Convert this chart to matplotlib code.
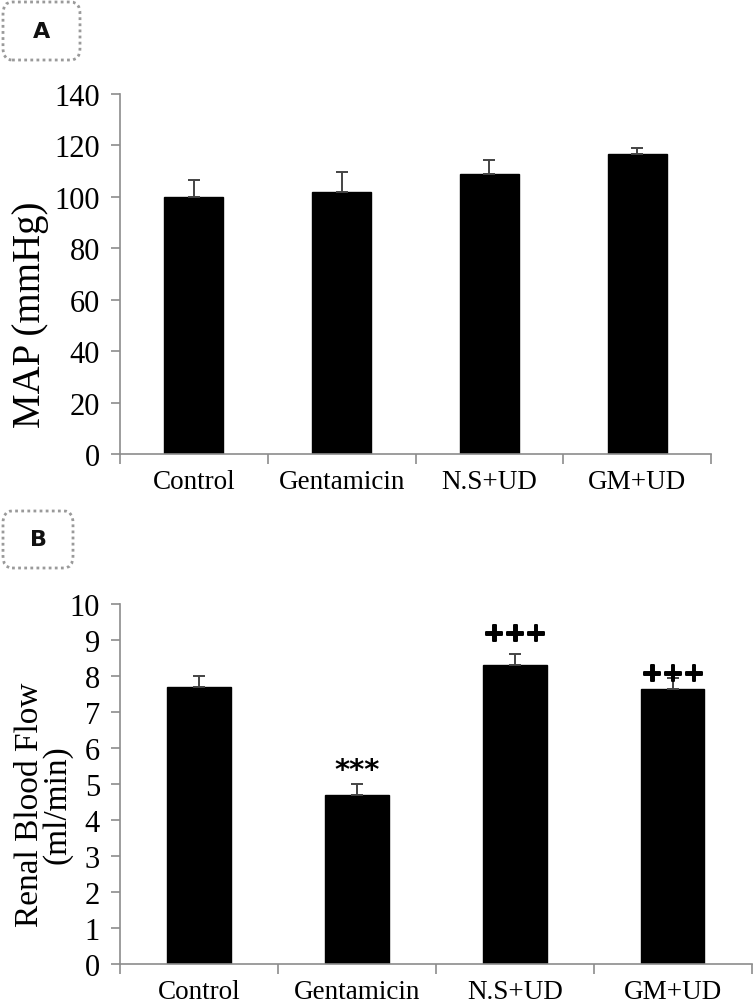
import matplotlib
matplotlib.use("Agg")
import matplotlib.pyplot as plt
import matplotlib.patheffects as pe
from matplotlib.patches import FancyBboxPatch

# data
groups = ["Control", "Gentamicin", "N.S+UD", "GM+UD"]
map_mean = [100, 102, 109, 116.5]
map_err = [6.5, 7.5, 5.4, 2.5]
rbf_mean = [7.7, 4.7, 8.3, 7.65]
rbf_err = [0.3, 0.3, 0.3, 0.3]
rbf_marks = ["", "***", "+++", "+++"]

SERIF = ["Liberation Serif", "DejaVu Serif"]
AXCOL = "#8c8c8c"


def style_axis(ax, ymax, ystep):
    n = len(groups)
    ax.set_xlim(-0.5, n - 0.5)
    ax.set_ylim(0, ymax)
    ax.set_yticks(range(0, ymax + 1, ystep))
    ax.set_xticks([i - 0.5 for i in range(n + 1)])
    ax.set_xticklabels([])
    ax.set_xticks(range(n), minor=True)
    ax.set_xticklabels(groups, minor=True, family=SERIF, fontsize=19.5)
    ax.tick_params(axis="x", which="minor", length=0, pad=11)
    ax.tick_params(axis="x", which="major", length=7, color=AXCOL, width=1.2)
    ax.tick_params(axis="y", length=6.5, color=AXCOL, width=1.2, pad=8)
    for lab in ax.get_yticklabels():
        lab.set_family(SERIF)
        lab.set_fontsize(22)
    for s in ["top", "right"]:
        ax.spines[s].set_visible(False)
    for s in ["left", "bottom"]:
        ax.spines[s].set_color(AXCOL)
        ax.spines[s].set_linewidth(1.2)


def bars(ax, mean, err):
    x = range(len(groups))
    ax.bar(x, mean, width=0.4, color="black", edgecolor="black")
    ax.errorbar(x, mean, yerr=[[0] * len(err), err], fmt="none",
                ecolor="#444444", elinewidth=1.4, capsize=4, capthick=1.4)


def panel_tag(fig, letter, x0, y0, w, h):
    W, H = 754, 1004
    box = FancyBboxPatch((x0 / W, 1 - (y0 + h) / H), w / W, h / H,
                         boxstyle="round,pad=0,rounding_size=0.012",
                         transform=fig.transFigure, fill=False,
                         edgecolor="#9a9a9a", linestyle=(0, (1, 1.2)),
                         linewidth=2)
    fig.patches.append(box)
    fig.text((x0 + w / 2) / W, 1 - (y0 + h / 2) / H, letter,
             ha="center", va="center", fontsize=16, fontweight="bold",
             family="DejaVu Sans", color="#111111")


fig = plt.figure(figsize=(7.54, 10.04), dpi=100)

axA = fig.add_axes([0.1592, 0.5468, 0.7838, 0.3586])
bars(axA, map_mean, map_err)
style_axis(axA, 140, 20)
axA.set_ylabel("MAP (mmHg)", family=SERIF, fontsize=28)
axA.yaxis.set_label_coords(-0.12, 0.39)

axB = fig.add_axes([0.1592, 0.0388, 0.8380, 0.3586])
bars(axB, rbf_mean, rbf_err)
style_axis(axB, 10, 1)
axB.set_ylabel("Renal Blood Flow\n(ml/min)", family=SERIF, fontsize=24,
               linespacing=0.85)
axB.yaxis.set_label_coords(-0.075, 0.445)

offsets = [0, 0, 6, -6]
for i, m in enumerate(rbf_marks):
    if not m:
        continue
    if m == "***":
        axB.annotate(m, (i, rbf_mean[i] + rbf_err[i]), xytext=(0, offsets[i]),
                     textcoords="offset points", ha="center", va="bottom",
                     fontsize=21, fontweight="bold", family="DejaVu Sans")
    else:
        axB.annotate(m, (i, rbf_mean[i] + rbf_err[i]), xytext=(0, offsets[i]),
                     textcoords="offset points", ha="center", va="bottom",
                     fontsize=18, fontweight="bold", family="DejaVu Sans",
                     path_effects=[pe.withStroke(linewidth=1.4, foreground="black")])

panel_tag(fig, "A", 3, 3, 77, 58)
panel_tag(fig, "B", 3, 512, 70, 57)

fig.savefig("out.png", dpi=100)
